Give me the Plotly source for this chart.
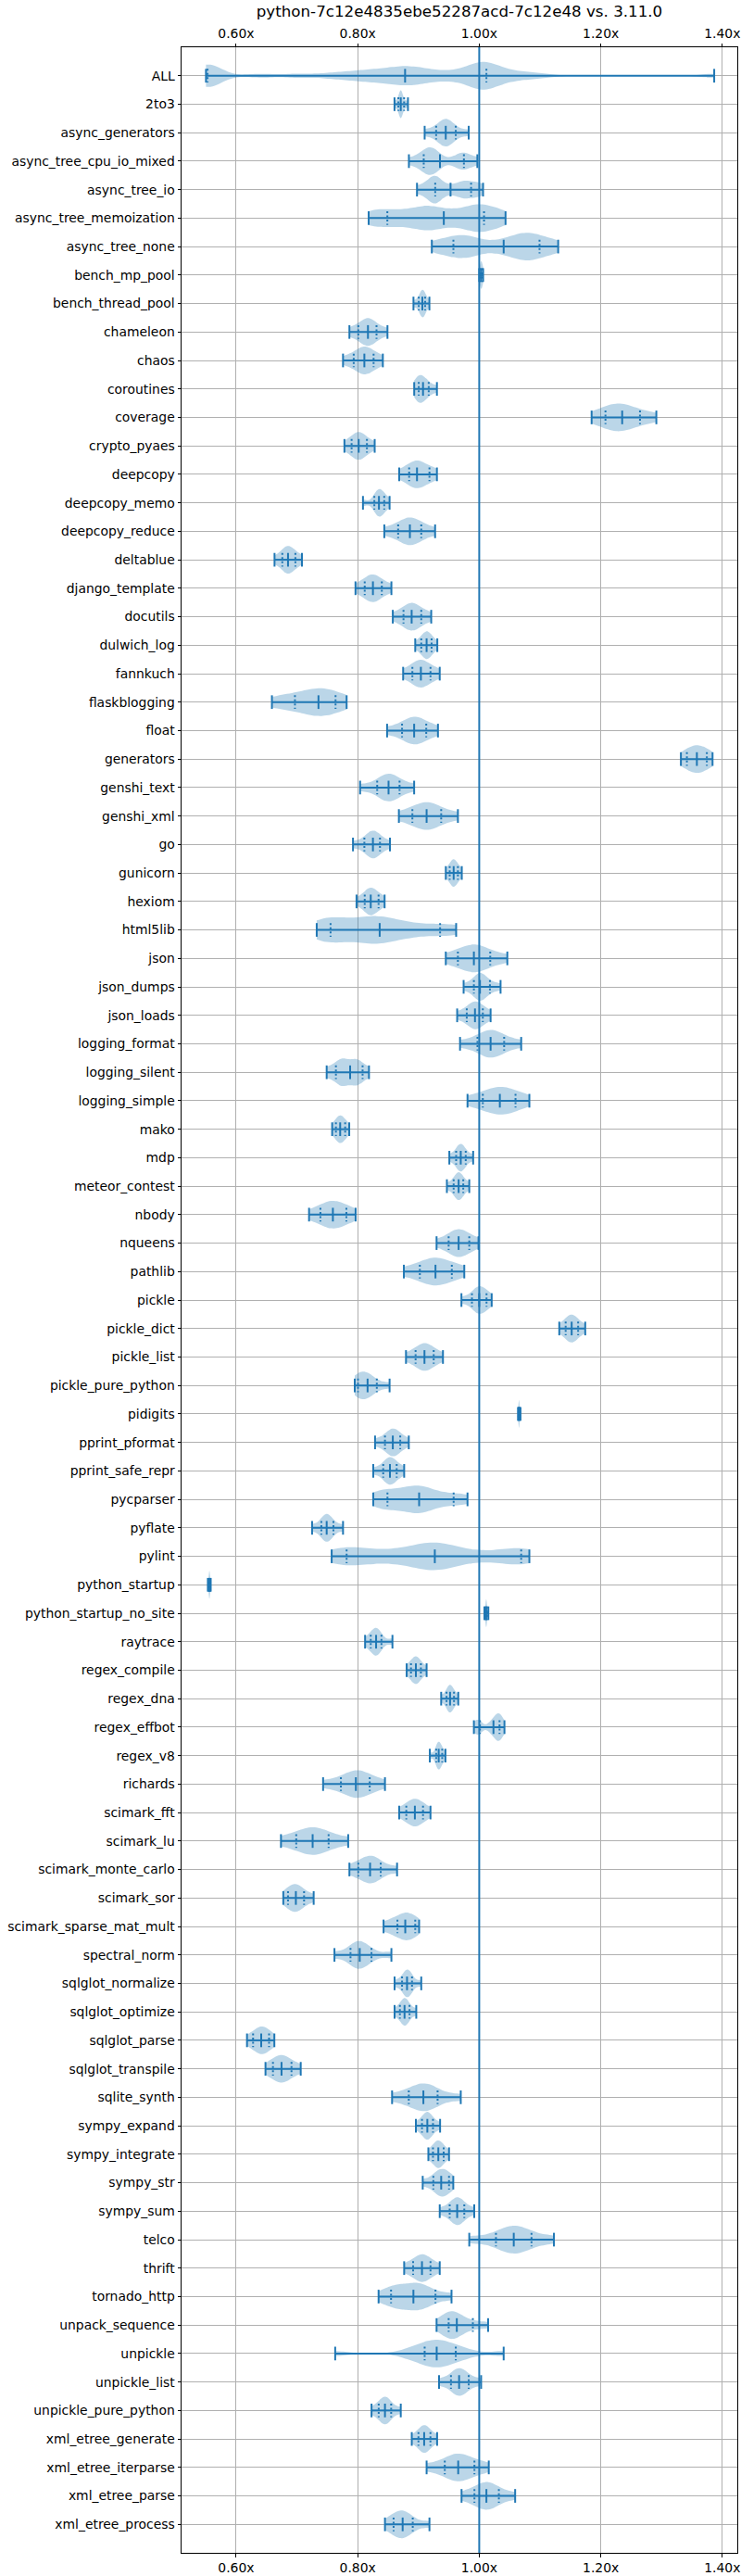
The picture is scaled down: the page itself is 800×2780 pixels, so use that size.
import plotly.graph_objects as go

# speedup vs 3.11.0, one row per benchmark (top to bottom)
benchmarks = [
    'ALL', '2to3', 'async_generators', 'async_tree_cpu_io_mixed', 'async_tree_io',
    'async_tree_memoization', 'async_tree_none', 'bench_mp_pool', 'bench_thread_pool',
    'chameleon', 'chaos', 'coroutines', 'coverage', 'crypto_pyaes', 'deepcopy',
    'deepcopy_memo', 'deepcopy_reduce', 'deltablue', 'django_template', 'docutils',
    'dulwich_log', 'fannkuch', 'flaskblogging', 'float', 'generators', 'genshi_text',
    'genshi_xml', 'go', 'gunicorn', 'hexiom', 'html5lib', 'json', 'json_dumps',
    'json_loads', 'logging_format', 'logging_silent', 'logging_simple', 'mako', 'mdp',
    'meteor_contest', 'nbody', 'nqueens', 'pathlib', 'pickle', 'pickle_dict',
    'pickle_list', 'pickle_pure_python', 'pidigits', 'pprint_pformat',
    'pprint_safe_repr', 'pycparser', 'pyflate', 'pylint', 'python_startup',
    'python_startup_no_site', 'raytrace', 'regex_compile', 'regex_dna', 'regex_effbot',
    'regex_v8', 'richards', 'scimark_fft', 'scimark_lu', 'scimark_monte_carlo',
    'scimark_sor', 'scimark_sparse_mat_mult', 'spectral_norm', 'sqlglot_normalize',
    'sqlglot_optimize', 'sqlglot_parse', 'sqlglot_transpile', 'sqlite_synth',
    'sympy_expand', 'sympy_integrate', 'sympy_str', 'sympy_sum', 'telco', 'thrift',
    'tornado_http', 'unpack_sequence', 'unpickle', 'unpickle_list',
    'unpickle_pure_python', 'xml_etree_generate', 'xml_etree_iterparse',
    'xml_etree_parse', 'xml_etree_process',
]

medians = [
    0.878, 0.8709, 0.9449, 0.9354, 0.9528, 0.9417, 1.0402, 1.003, 0.9064, 0.8169,
    0.811, 0.9075, 1.2352, 0.8017, 0.8976, 0.835, 0.8859, 0.6854, 0.8251, 0.8888,
    0.9134, 0.904, 0.7355, 0.8929, 1.3581, 0.8508, 0.9134, 0.8251, 0.9579, 0.8215,
    0.8362, 0.9912, 1.0012, 0.993, 1.0187, 0.7876, 1.0339, 0.7712, 0.9696, 0.9661,
    0.7592, 0.9661, 0.928, 1.0, 1.1521, 0.9099, 0.8163, 1.0655, 0.8578, 0.8531,
    0.9011, 0.749, 0.9269, 0.556, 1.0115, 0.8303, 0.8958, 0.952, 1.0234, 0.9333,
    0.797, 0.8941, 0.7259, 0.8204, 0.6983, 0.8783, 0.8034, 0.8812, 0.8771, 0.6413,
    0.6747, 0.9081, 0.9146, 0.9327, 0.9374, 0.9637, 1.0568, 0.9058, 0.8917, 0.9631,
    0.93, 0.9669, 0.8449, 0.9094, 0.9654, 1.0118, 0.874,
]

q_low = [
    0.553, 0.867, 0.9291, 0.9087, 0.9276, 0.8488, 0.9575, 1.0015, 0.9005, 0.801,
    0.7935, 0.9005, 1.2077, 0.79, 0.8847, 0.8274, 0.8666, 0.676, 0.8116, 0.8754,
    0.9046, 0.89, 0.6968, 0.873, 1.3417, 0.8321, 0.89, 0.811, 0.9514, 0.8116,
    0.7554, 0.9649, 0.9912, 0.9795, 0.9971, 0.7642, 1.0059, 0.7642, 0.962, 0.9579,
    0.7387, 0.9497, 0.9023, 0.988, 1.1422, 0.8953, 0.8005, 1.0648, 0.8449, 0.842,
    0.849, 0.7402, 0.7818, 0.555, 1.0105, 0.8215, 0.8877, 0.9462, 1.0012, 0.9292,
    0.7724, 0.88, 0.6989, 0.801, 0.6854, 0.8654, 0.7882, 0.873, 0.8695, 0.6279,
    0.6606, 0.8841, 0.9058, 0.9239, 0.9245, 0.9514, 1.0275, 0.8912, 0.8549, 0.9497,
    0.9102, 0.9535, 0.8346, 0.9, 0.9433, 0.9921, 0.8591,
]

q_high = [
    1.0118, 0.8764, 0.9614, 0.9748, 0.9866, 1.0079, 1.0992, 1.005, 0.911, 0.831,
    0.8262, 0.9169, 1.2645, 0.8152, 0.9181, 0.8437, 0.9046, 0.6975, 0.8397, 0.9046,
    0.9216, 0.9198, 0.7636, 0.9128, 1.3745, 0.8689, 0.9374, 0.8367, 0.9649, 0.8344,
    0.9356, 1.0181, 1.0176, 1.0059, 1.041, 0.8081, 1.0597, 0.7794, 0.9778, 0.9737,
    0.7814, 0.9836, 0.9549, 1.012, 1.1627, 0.9251, 0.8315, 1.0665, 0.87, 0.8642,
    0.9579, 0.7601, 1.069, 0.557, 1.0128, 0.8391, 0.904, 0.9585, 1.0334, 0.9391,
    0.8198, 0.9075, 0.7522, 0.8379, 0.7118, 0.8947, 0.8227, 0.8894, 0.8853, 0.6542,
    0.6911, 0.9315, 0.9239, 0.9415, 0.9503, 0.9754, 1.086, 0.9198, 0.928, 0.9895,
    0.9614, 0.9827, 0.8551, 0.9197, 0.9921, 1.0323, 0.8906,
]

samples = [
    [0.5504, 0.5515, 0.553, 0.5545, 0.556, 0.56, 0.64, 0.70, 0.75, 0.78, 0.80, 0.82,
     0.83, 0.85, 0.86, 0.87, 0.88, 0.89, 0.90, 0.91, 0.93, 0.95, 0.97, 0.99, 0.995,
     1.0, 1.005, 1.01, 1.015, 1.02, 1.03, 1.05, 1.07, 1.1, 1.3866],
    [0.8606, 0.866, 0.869, 0.8705, 0.871, 0.8715, 0.873, 0.877, 0.8827],
    [0.9102, 0.928, 0.937, 0.943, 0.945, 0.947, 0.953, 0.962, 0.9827],
    [0.8843, 0.905, 0.912, 0.918, 0.921, 0.925, 0.935, 0.965, 0.972, 0.978, 0.9969],
    [0.8976, 0.915, 0.922, 0.927, 0.930, 0.935, 0.952, 0.968, 0.975, 0.985, 0.995, 1.0063],
    [0.8181, 0.835, 0.855, 0.875, 0.895, 0.91, 0.92, 0.935, 0.955, 0.975, 0.99, 1.0,
     1.01, 1.025, 1.0433],
    [0.922, 0.945, 0.96, 0.972, 0.985, 1.0, 1.03, 1.05, 1.065, 1.075, 1.083, 1.095,
     1.11, 1.1299],
    [1.0, 1.002, 1.003, 1.0035, 1.005, 1.0064],
    [0.8918, 0.9, 0.904, 0.906, 0.907, 0.909, 0.911, 0.918],
    [0.7864, 0.801, 0.810, 0.816, 0.818, 0.823, 0.831, 0.849],
    [0.7759, 0.7935, 0.803, 0.81, 0.812, 0.818, 0.826, 0.8414],
    [0.893, 0.899, 0.901, 0.903, 0.907, 0.912, 0.917, 0.9304],
    [1.1849, 1.207, 1.22, 1.228, 1.235, 1.245, 1.264, 1.2914],
    [0.7782, 0.79, 0.796, 0.801, 0.803, 0.808, 0.815, 0.828],
    [0.8683, 0.884, 0.892, 0.897, 0.899, 0.907, 0.918, 0.9304],
    [0.8087, 0.827, 0.832, 0.835, 0.836, 0.84, 0.844, 0.8525],
    [0.8438, 0.866, 0.877, 0.885, 0.887, 0.895, 0.905, 0.9274],
    [0.6632, 0.676, 0.681, 0.685, 0.686, 0.692, 0.6975, 0.7083],
    [0.7964, 0.811, 0.818, 0.824, 0.826, 0.832, 0.84, 0.8555],
    [0.8578, 0.875, 0.882, 0.888, 0.89, 0.897, 0.905, 0.921],
    [0.8947, 0.9045, 0.909, 0.913, 0.914, 0.918, 0.9215, 0.931],
    [0.8748, 0.89, 0.897, 0.903, 0.905, 0.912, 0.92, 0.935],
    [0.6589, 0.68, 0.697, 0.715, 0.73, 0.737, 0.742, 0.75, 0.764, 0.7818],
    [0.8484, 0.873, 0.884, 0.892, 0.894, 0.903, 0.913, 0.9321],
    [1.3318, 1.3417, 1.35, 1.356, 1.36, 1.367, 1.3745, 1.3839],
    [0.804, 0.832, 0.842, 0.85, 0.852, 0.86, 0.869, 0.8929],
    [0.8678, 0.89, 0.903, 0.912, 0.915, 0.925, 0.937, 0.9649],
    [0.7923, 0.811, 0.819, 0.824, 0.826, 0.831, 0.837, 0.8531],
    [0.945, 0.9514, 0.955, 0.9575, 0.9585, 0.961, 0.965, 0.9713],
    [0.7981, 0.8116, 0.817, 0.821, 0.822, 0.828, 0.8344, 0.8443],
    [0.7326, 0.742, 0.755, 0.768, 0.785, 0.805, 0.82, 0.83, 0.84, 0.855, 0.875, 0.9,
     0.935, 0.962],
    [0.945, 0.965, 0.982, 0.99, 0.993, 1.003, 1.018, 1.0462],
    [0.9743, 0.991, 0.998, 1.001, 1.003, 1.008, 1.0176, 1.0351],
    [0.9637, 0.9795, 0.987, 0.992, 0.994, 1.0, 1.006, 1.0187],
    [0.9684, 0.997, 1.009, 1.018, 1.02, 1.03, 1.041, 1.069],
    [0.749, 0.762, 0.77, 0.775, 0.78, 0.788, 0.795, 0.8, 0.806, 0.8186],
    [0.9807, 1.006, 1.02, 1.033, 1.036, 1.047, 1.06, 1.0825],
    [0.758, 0.7642, 0.768, 0.771, 0.772, 0.776, 0.7794, 0.7861],
    [0.9508, 0.962, 0.966, 0.969, 0.970, 0.974, 0.978, 0.99],
    [0.9468, 0.958, 0.962, 0.966, 0.9665, 0.97, 0.9737, 0.9836],
    [0.72, 0.7387, 0.75, 0.758, 0.76, 0.77, 0.7814, 0.7966],
    [0.9298, 0.9497, 0.958, 0.965, 0.967, 0.975, 0.9836, 0.9988],
    [0.876, 0.902, 0.916, 0.925, 0.93, 0.94, 0.955, 0.9754],
    [0.9707, 0.988, 0.995, 0.999, 1.001, 1.006, 1.012, 1.0205],
    [1.1317, 1.1422, 1.147, 1.151, 1.153, 1.158, 1.1627, 1.1744],
    [0.8795, 0.8953, 0.903, 0.909, 0.911, 0.918, 0.925, 0.9403],
    [0.7952, 0.798, 0.802, 0.808, 0.814, 0.8165, 0.82, 0.8315, 0.8525],
    [1.0638, 1.0648, 1.0653, 1.0655, 1.0657, 1.0665, 1.0679],
    [0.8286, 0.845, 0.852, 0.857, 0.859, 0.864, 0.87, 0.8841],
    [0.8256, 0.842, 0.848, 0.852, 0.854, 0.859, 0.8642, 0.8765],
    [0.8256, 0.84, 0.85, 0.865, 0.88, 0.893, 0.9, 0.905, 0.915, 0.935, 0.958, 0.9807],
    [0.725, 0.7402, 0.745, 0.748, 0.75, 0.755, 0.76, 0.7759],
    [0.7572, 0.775, 0.79, 0.81, 0.84, 0.87, 0.895, 0.91, 0.92, 0.93, 0.94, 0.955,
     0.98, 1.02, 1.055, 1.069, 1.0825],
    [0.5535, 0.555, 0.5558, 0.556, 0.5562, 0.557, 0.5582],
    [1.0085, 1.0105, 1.0112, 1.0115, 1.0118, 1.0128, 1.015],
    [0.8122, 0.8215, 0.826, 0.829, 0.831, 0.835, 0.839, 0.8572],
    [0.8806, 0.8877, 0.892, 0.895, 0.8965, 0.90, 0.904, 0.9134],
    [0.9374, 0.9462, 0.949, 0.9515, 0.9525, 0.955, 0.9585, 0.9655],
    [0.9912, 0.998, 1.001, 1.018, 1.024, 1.029, 1.031, 1.033, 1.035, 1.0415],
    [0.9187, 0.929, 0.931, 0.933, 0.934, 0.936, 0.939, 0.9444],
    [0.7431, 0.772, 0.787, 0.797, 0.8, 0.808, 0.82, 0.8449],
    [0.8683, 0.88, 0.888, 0.893, 0.895, 0.901, 0.9075, 0.9198],
    [0.6738, 0.699, 0.714, 0.725, 0.727, 0.74, 0.752, 0.7844],
    [0.7864, 0.801, 0.813, 0.82, 0.822, 0.829, 0.838, 0.8648],
    [0.6776, 0.6854, 0.692, 0.697, 0.699, 0.705, 0.7118, 0.7276],
    [0.8426, 0.855, 0.8654, 0.874, 0.878, 0.881, 0.886, 0.8947, 0.9011],
    [0.7618, 0.788, 0.797, 0.8, 0.804, 0.812, 0.8227, 0.8555],
    [0.8607, 0.873, 0.878, 0.881, 0.882, 0.886, 0.8894, 0.9046],
    [0.8607, 0.8695, 0.874, 0.877, 0.878, 0.881, 0.8853, 0.8964],
    [0.6179, 0.628, 0.636, 0.641, 0.642, 0.648, 0.654, 0.6629],
    [0.6483, 0.6606, 0.668, 0.674, 0.676, 0.683, 0.691, 0.7063],
    [0.8566, 0.884, 0.897, 0.907, 0.91, 0.92, 0.9315, 0.9696],
    [0.8958, 0.9058, 0.911, 0.914, 0.915, 0.919, 0.924, 0.9356],
    [0.9163, 0.9239, 0.929, 0.932, 0.9335, 0.937, 0.9415, 0.9503],
    [0.907, 0.9245, 0.932, 0.937, 0.938, 0.944, 0.9503, 0.9573],
    [0.935, 0.9514, 0.958, 0.963, 0.965, 0.97, 0.9754, 0.9918],
    [0.9836, 1.0275, 1.045, 1.055, 1.058, 1.07, 1.086, 1.1229],
    [0.8765, 0.891, 0.899, 0.905, 0.907, 0.913, 0.92, 0.935],
    [0.8344, 0.85, 0.86, 0.867, 0.875, 0.885, 0.893, 0.9, 0.905, 0.915, 0.928, 0.9544],
    [0.9298, 0.945, 0.95, 0.953, 0.958, 0.963, 0.972, 0.99, 1.0146],
    [0.763, 0.88, 0.9, 0.91, 0.92, 0.928, 0.932, 0.94, 0.95, 0.962, 0.98, 1.0402],
    [0.9339, 0.9535, 0.962, 0.966, 0.968, 0.975, 0.9827, 1.0031],
    [0.8228, 0.8346, 0.84, 0.844, 0.846, 0.85, 0.855, 0.8709],
    [0.889, 0.9, 0.905, 0.909, 0.91, 0.915, 0.9197, 0.9307],
    [0.9134, 0.9433, 0.956, 0.964, 0.967, 0.978, 0.992, 1.0157],
    [0.9709, 0.992, 1.003, 1.011, 1.013, 1.022, 1.0323, 1.0591],
    [0.8449, 0.859, 0.866, 0.871, 0.875, 0.882, 0.8906, 0.9181],
]

tick_vals = [0.6, 0.8, 1.0, 1.2, 1.4]
tick_text = ['0.60x', '0.80x', '1.00x', '1.20x', '1.40x']

# kde bandwidth for the lumpy ones, the rest use plotly's default
bandwidth = {
    'ALL': 0.022,
    'async_tree_cpu_io_mixed': 0.012,
    'async_tree_io': 0.01,
    'async_tree_memoization': 0.018,
    'async_tree_none': 0.018,
    'html5lib': 0.025,
    'logging_silent': 0.008,
    'pycparser': 0.02,
    'pylint': 0.03,
    'regex_effbot': 0.006,
    'tornado_http': 0.014,
    'unpickle': 0.02,
}

BLUE = '#1f77b4'
FONT = 'DejaVu Sans'
GRID = '#b0b0b0'
HALF = 0.24  # half length of the min/max/median ticks

fig = go.Figure()

for i, name in enumerate(benchmarks):
    vals = samples[i]
    v = go.Violin(
        x=vals, y=[i] * len(vals), orientation='h',
        width=0.97, scalemode='width', spanmode='hard',
        points=False, fillcolor='rgba(31,119,180,0.3)',
        line=dict(width=0, color='rgba(31,119,180,0)'),
        hoverinfo='skip', showlegend=False,
    )
    if name in bandwidth:
        v.bandwidth = bandwidth[name]
    fig.add_trace(v)

# extrema caps, median tick and the min->max bar
lx, ly = [], []
qx, qy = [], []
for i, vals in enumerate(samples):
    lo, hi = min(vals), max(vals)
    for v in (lo, hi, medians[i]):
        lx += [v, v, None]
        ly += [i - HALF, i + HALF, None]
    lx += [lo, hi, None]
    ly += [i, i, None]
    for v in (q_low[i], q_high[i]):
        qx += [v, v, None]
        qy += [i - HALF, i + HALF, None]

fig.add_trace(go.Scatter(x=lx, y=ly, mode='lines', line=dict(color=BLUE, width=2),
                         hoverinfo='skip', showlegend=False))
fig.add_trace(go.Scatter(x=qx, y=qy, mode='lines',
                         line=dict(color=BLUE, width=2, dash='2px,2.5px'),
                         hoverinfo='skip', showlegend=False))
# dummy trace so the top axis gets drawn
fig.add_trace(go.Scatter(x=[1.0], y=[0], xaxis='x2', mode='markers',
                         marker=dict(opacity=0), hoverinfo='skip', showlegend=False))

fig.add_shape(type='line', xref='x', yref='paper', x0=1.0, x1=1.0, y0=0, y1=1,
              line=dict(color=BLUE, width=2), layer='above')

xrange = [0.5102, 1.4246]
xcommon = dict(
    range=xrange, tickvals=tick_vals, ticktext=tick_text, automargin=False,
    ticks='outside', ticklen=3.5, tickwidth=1, tickcolor='black',
    tickfont=dict(family=FONT, size=13.9, color='black'), zeroline=False,
)

fig.update_layout(
    width=800, height=2780,
    margin=dict(l=196, r=4, t=51, b=25),
    paper_bgcolor='white', plot_bgcolor='white',
    violinmode='overlay', showlegend=False,
    title=dict(text='python-7c12e4835ebe52287acd-7c12e48 vs. 3.11.0',
               x=0.5, xref='paper', xanchor='center',
               y=1 - 12 / 2780, yref='container', yanchor='middle',
               font=dict(family=FONT, size=16.7, color='black')),
    xaxis=dict(showgrid=True, gridcolor=GRID, gridwidth=1,
               showline=True, linecolor='black', linewidth=1, mirror=True, **xcommon),
    xaxis2=dict(overlaying='x', side='top', showgrid=False, showline=False, **xcommon),
    yaxis=dict(range=[len(benchmarks), -1], tickvals=list(range(len(benchmarks))),
               ticktext=benchmarks, showgrid=True, gridcolor=GRID, gridwidth=1,
               showline=True, linecolor='black', linewidth=1, mirror=True,
               ticks='outside', ticklen=3.5, tickwidth=1, tickcolor='black',
               automargin=False,
               tickfont=dict(family=FONT, size=13.9, color='black'), zeroline=False),
)

# the page's default body margin would push the figure 8px right/down
fig.write_html('out.html', config={'displayModeBar': False},
               post_script="document.body.style.margin='0';")
